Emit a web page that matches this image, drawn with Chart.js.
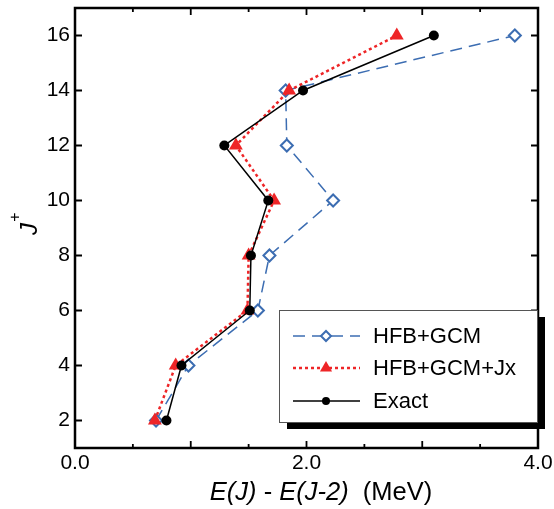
<!DOCTYPE html>
<html>
<head>
<meta charset="utf-8">
<script src="https://cdn.jsdelivr.net/npm/chart.js@4"></script>
<style>
  body { margin: 0; background: #fff; }
</style>
</head>
<body>
<canvas id="myChart" width="554" height="509"></canvas>
<script>
const spins = [2, 4, 6, 8, 10, 12, 14, 16];
const hfbGcm = [0.70, 0.98, 1.58, 1.68, 2.23, 1.83, 1.82, 3.80];
const hfbGcmJx = [0.69, 0.87, 1.49, 1.50, 1.72, 1.39, 1.85, 2.78];
const exact = [0.79, 0.92, 1.51, 1.52, 1.67, 1.29, 1.97, 3.10];

const xTicks = [0, 2, 4];
const yTicks = [2, 4, 6, 8, 10, 12, 14, 16];
const seriesNames = ["HFB+GCM", "HFB+GCM+Jx", "Exact"];

const BLUE = "#3c6db2";
const RED = "#ee2527";
const FONT = "'Liberation Sans', Arial, Helvetica, sans-serif";

function points(xs) {
  return xs.map((x, i) => ({ x: x, y: spins[i] }));
}

// frame, inward ticks, legend box and axis titles
const decorations = {
  id: "decorations",
  afterDraw(chart) {
    const ctx = chart.ctx;
    const a = chart.chartArea;
    const xs = chart.scales.x;
    const ys = chart.scales.y;
    ctx.save();
    ctx.strokeStyle = "#000";

    // ticks
    ctx.lineWidth = 1.8;
    ctx.beginPath();
    for (let v = 0.5; v < 4; v += 0.5) {
      const px = xs.getPixelForValue(v);
      const len = Number.isInteger(v) ? 7 : 4;
      ctx.moveTo(px, a.bottom); ctx.lineTo(px, a.bottom - len);
      ctx.moveTo(px, a.top); ctx.lineTo(px, a.top + len);
    }
    yTicks.forEach((v) => {
      const py = ys.getPixelForValue(v);
      ctx.moveTo(a.left, py); ctx.lineTo(a.left + 7, py);
      ctx.moveTo(a.right, py); ctx.lineTo(a.right - 7, py);
    });
    ctx.stroke();

    // frame
    ctx.lineWidth = 2.5;
    ctx.strokeRect(a.left, a.top, a.right - a.left, a.bottom - a.top);

    // legend
    const lx = 279, ly = 310, lw = 258, lh = 112;
    ctx.fillStyle = "#000";
    ctx.fillRect(lx + 8, ly + 7, lw, lh);
    ctx.fillStyle = "#fff";
    ctx.fillRect(lx, ly, lw, lh);
    ctx.lineWidth = 1;
    ctx.strokeStyle = "#555";
    ctx.strokeRect(lx + 0.5, ly + 0.5, lw, lh);

    const rows = [336, 368, 401];
    chart.data.datasets.forEach((ds, i) => {
      const y = rows[i];
      ctx.save();
      ctx.strokeStyle = ds.borderColor;
      ctx.lineWidth = ds.borderWidth;
      ctx.setLineDash(ds.borderDash || []);
      ctx.beginPath();
      ctx.moveTo(293, y); ctx.lineTo(360, y);
      ctx.stroke();
      ctx.restore();
      ctx.save();
      ctx.fillStyle = ds.pointBackgroundColor;
      ctx.strokeStyle = ds.pointBorderColor;
      ctx.lineWidth = ds.pointBorderWidth;
      const r = i === 2 ? 4 : ds.pointRadius - 1;
      Chart.helpers.drawPoint(ctx, {
        pointStyle: ds.pointStyle,
        radius: r,
        rotation: 0,
        borderWidth: ds.pointBorderWidth
      }, 326, y);
      ctx.restore();
      ctx.fillStyle = "#000";
      ctx.font = "22px " + FONT;
      ctx.textAlign = "left";
      ctx.textBaseline = "middle";
      ctx.fillText(ds.label, 373, y + 1);
    });

    // x title with italic parts
    const parts = [
      ["E(J)", true], [" - ", false], ["E(J-2)", true], ["  (MeV)", false]
    ];
    const titleFont = "25.5px " + FONT;
    ctx.fillStyle = "#000";
    ctx.textBaseline = "alphabetic";
    ctx.textAlign = "left";
    let total = 0;
    parts.forEach((p) => {
      ctx.font = (p[1] ? "italic " : "") + titleFont;
      total += ctx.measureText(p[0]).width;
    });
    let x = 321 - total / 2;
    parts.forEach((p) => {
      ctx.font = (p[1] ? "italic " : "") + titleFont;
      ctx.fillText(p[0], x, 500);
      x += ctx.measureText(p[0]).width;
    });

    // y title J+
    ctx.translate(37, 228);
    ctx.rotate(-Math.PI / 2);
    ctx.font = "italic 24px " + FONT;
    ctx.fillText("J", -7, 0);
    ctx.font = "16px " + FONT;
    ctx.textAlign = "center";
    ctx.fillText("+", 11, -17);
    ctx.restore();
  }
};

new Chart(document.getElementById("myChart"), {
  type: "scatter",
  data: {
    datasets: [
      {
        label: seriesNames[0],
        data: points(hfbGcm),
        showLine: true,
        order: 3,
        borderColor: BLUE,
        borderWidth: 1.5,
        borderDash: [12, 7],
        pointStyle: "rectRot",
        pointRadius: 6,
        pointBorderWidth: 2,
        pointBorderColor: BLUE,
        pointBackgroundColor: "#fff",
      },
      {
        label: seriesNames[1],
        data: points(hfbGcmJx),
        showLine: true,
        order: 2,
        borderColor: RED,
        borderWidth: 2.5,
        borderDash: [3, 3],
        pointStyle: "triangle",
        pointRadius: 8,
        pointBorderWidth: 0,
        pointBorderColor: RED,
        pointBackgroundColor: RED,
      },
      {
        label: seriesNames[2],
        data: points(exact),
        showLine: true,
        order: 1,
        borderColor: "#000",
        borderWidth: 1.5,
        pointStyle: "circle",
        pointRadius: 5,
        pointBorderWidth: 0,
        pointBorderColor: "#000",
        pointBackgroundColor: "#000",
      },
    ],
  },
  options: {
    responsive: false,
    animation: false,
    layout: { padding: { top: 6, right: 16, left: 0, bottom: 0 } },
    plugins: {
      legend: { display: false },
      tooltip: { enabled: false },
    },
    scales: {
      x: {
        type: "linear",
        min: 0,
        max: 4,
        border: { display: false },
        grid: { display: false, drawTicks: false },
        afterBuildTicks: (s) => { s.ticks = xTicks.map((v) => ({ value: v })); },
        afterFit: (s) => { s.height = 61; s.paddingLeft = 0; s.paddingRight = 0; },
        ticks: {
          padding: 3,
          maxRotation: 0,
          color: "#000",
          font: { family: FONT, size: 21 },
          callback: (v) => v.toFixed(1),
        },
      },
      y: {
        type: "linear",
        min: 1,
        max: 17,
        border: { display: false },
        grid: { display: false, drawTicks: false },
        afterBuildTicks: (s) => { s.ticks = yTicks.map((v) => ({ value: v })); },
        afterFit: (s) => { s.width = 75; s.paddingTop = 0; s.paddingBottom = 0; },
        ticks: {
          padding: 5,
          color: "#000",
          font: { family: FONT, size: 21 },
        },
      },
    },
  },
  plugins: [decorations],
});
</script>
</body>
</html>
